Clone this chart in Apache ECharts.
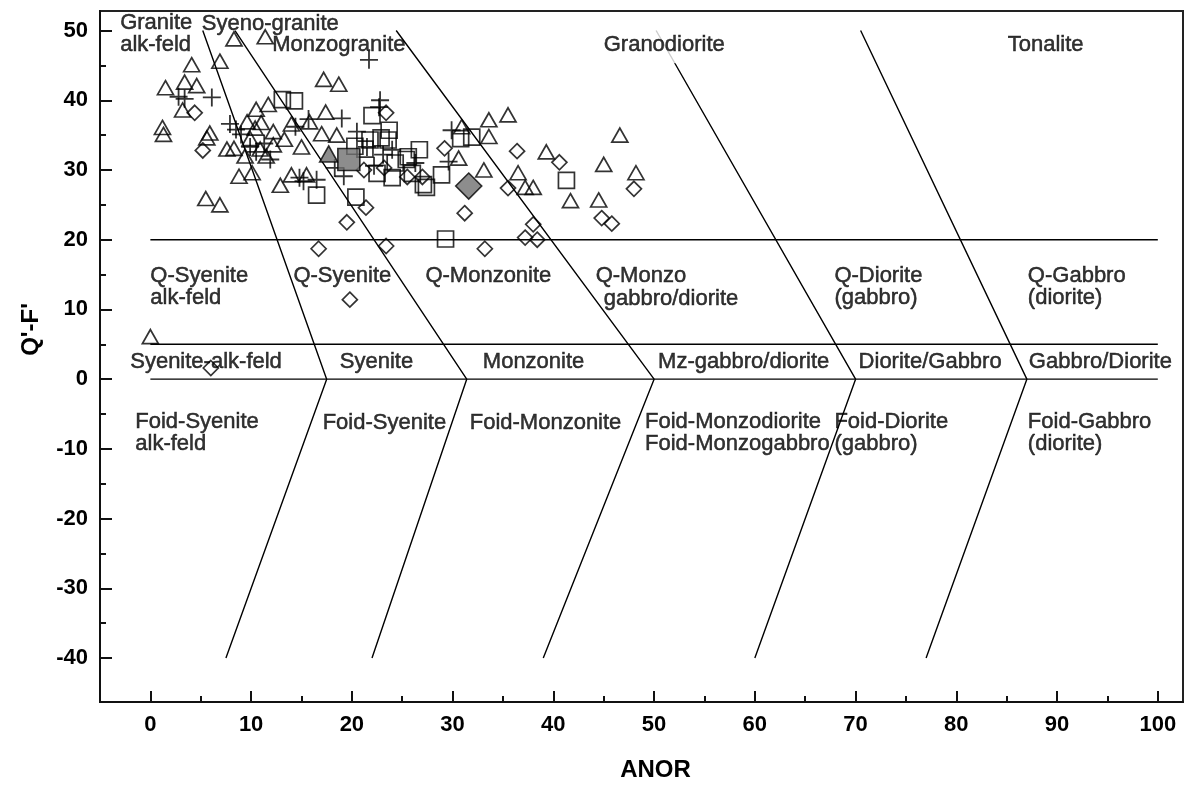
<!DOCTYPE html>
<html><head><meta charset="utf-8">
<script src="https://cdn.jsdelivr.net/npm/echarts@6/dist/echarts.min.js"></script>
<style>html,body{margin:0;padding:0;background:#fff}#c{width:1186px;height:787px}</style>
</head><body><div id="c"></div>
<script>
// ---- axis ticks ----
const xTicks = [0,10,20,30,40,50,60,70,80,90,100];
const xMinor = [5,15,25,35,45,55,65,75,85,95];
const yTicks = [-40,-30,-20,-10,0,10,20,30,40,50];
const yMinor = [-35,-25,-15,-5,5,15,25,35,45];

// ---- field boundaries (ANOR, Q'-F') ----
const boundA = [[5.2,50],[17.5,0],[7.5,-40]];
const boundB = [[8.4,50],[31.4,0],[22,-40]];
const boundC = [[24.4,50],[50,0],[39,-40]];
const boundD = [[50.2,50],[70,0],[60,-40]];
const boundE = [[70.5,50],[87,0],[77,-40]];
const h20 = [[0,20],[100,20]];
const h5 = [[0,5],[100,5]];
const h0 = [[0,0],[100,0]];

// ---- samples ----
const triangles = [
 [8.3,48.8],[11.4,49.1],[4.1,45.1],[6.9,45.6],[1.5,41.8],[3.4,42.6],[4.6,42.1],[3.2,38.6],[1.2,36.1],[1.3,35.1],
 [5.9,35.3],[5.6,34.6],[7.6,33.0],[8.3,33.1],[9.9,34.5],[10.5,38.7],[11.7,39.4],[12.2,35.5],[12.2,33.6],[8.8,29.1],
 [10.1,29.6],[5.5,25.9],[6.9,25.0],[14.0,36.6],[15.0,33.3],[12.9,27.8],[14.0,29.3],[17.2,43.0],[18.7,42.3],[17.4,38.3],
 [15.8,36.9],[17.0,35.2],[18.5,35.0],[30.9,36.2],[30.6,31.7],[35.5,37.9],[33.6,37.2],[33.6,34.8],[39.3,32.6],[46.6,35.0],
 [33.1,30.0],[36.5,29.6],[45.0,30.8],[48.2,29.6],[37.2,27.5],[38.0,27.5],[41.7,25.6],[44.5,25.7],[0.0,6.1],
 [10.4,36.0],[11.0,36.8],[9.4,32.0],[10.9,33.0],[11.5,32.0],[9.6,36.9],[13.3,34.4],[15.5,29.3]
];
const pluses = [
 [2.8,40.5],[6.1,40.4],[7.9,36.6],[8.5,35.8],[9.0,35.1],[9.9,33.3],[11.9,31.5],[14.4,36.2],[15.7,37.3],[21.7,45.8],
 [22.7,39.0],[22.8,40.0],[20.5,35.5],[23.1,32.2],[24.0,32.9],[29.9,35.7],[29.6,31.2],[16.5,28.6],[19.2,29.1],[15.2,28.4],
 [10.5,32.6],[11.3,33.8],[14.8,28.9],[21.5,33.3],[26.3,31.0],[18.3,30.3],[22.2,30.6],[19.0,37.4],[3.4,40.2]
];
const squares = [
 [13.1,40.1],[14.3,39.9],[22.0,37.8],[23.7,35.7],[23.6,34.3],[26.7,32.9],[25.4,31.5],[24.3,31.0],[24.0,28.9],[27.1,27.9],
 [27.4,27.5],[28.9,29.3],[30.8,34.5],[31.9,34.7],[16.5,26.4],[20.4,26.1],[29.3,20.1],[41.3,28.5],[21.8,34.3],[22.9,34.6],
 [21.3,33.0],[25.6,31.9],[22.5,29.5],[20.3,33.4],[26.0,29.5]
];
const diamonds = [
 [4.4,38.2],[5.2,32.8],[23.4,38.2],[29.2,33.1],[36.4,32.7],[40.6,31.1],[35.5,27.4],[48.0,27.3],[31.2,23.8],[21.4,24.6],
 [19.5,22.5],[25.5,29.0],[44.8,23.1],[45.8,22.3],[38.0,22.2],[37.2,20.3],[38.4,20.0],[33.2,18.7],[16.7,18.7],[23.4,19.1],
 [19.8,11.4],[6.0,1.6],[21.2,30.0],[23.2,30.3],[27.0,29.0]
];
const grayTriangle = [[17.7,32.3]];
const graySquare = [[19.7,31.5]];
const grayDiamond = [[31.6,27.7]];

// ---- field names [ANOR, Q'-F', text] (left-aligned, vertically centred) ----
const fieldNames = [
 [-3.0,49.5,'Granite\nalk-feld'],
 [5.1,51.0,'Syeno-granite'],
 [12.1,47.9,'Monzogranite'],
 [44.8,47.9,'Granodiorite'],
 [85.1,47.9,'Tonalite'],
 [0.0,13.2,'Q-Syenite\nalk-feld'],
 [14.2,14.8,'Q-Syenite'],
 [27.3,14.8,'Q-Monzonite'],
 [44.2,14.8,'Q-Monzo'],
 [45.0,11.5,'gabbro/diorite'],
 [67.9,13.2,'Q-Diorite\n(gabbro)'],
 [87.1,13.2,'Q-Gabbro\n(diorite)'],
 [-2.0,2.5,'Syenite-alk-feld'],
 [18.8,2.5,'Syenite'],
 [33.0,2.5,'Monzonite'],
 [50.4,2.5,'Mz-gabbro/diorite'],
 [70.3,2.5,'Diorite/Gabbro'],
 [87.2,2.5,'Gabbro/Diorite'],
 [-1.5,-7.7,'Foid-Syenite\nalk-feld'],
 [17.1,-6.3,'Foid-Syenite'],
 [31.7,-6.3,'Foid-Monzonite'],
 [49.1,-7.7,'Foid-Monzodiorite\nFoid-Monzogabbro'],
 [67.9,-7.7,'Foid-Diorite\n(gabbro)'],
 [87.1,-7.7,'Foid-Gabbro\n(diorite)']
];

const FONT = 'Liberation Sans, Arial, Helvetica, sans-serif';
const chart = echarts.init(document.getElementById('c'), null, {renderer:'canvas'});

function boundary(d){
  return {type:'line', data:d, symbol:'none', silent:true, z:1,
    lineStyle:{color:'#000', width:1.4}, animation:false};
}
function marks(d, symbol, size, fill, bw){
  return {type:'scatter', data:d, symbol:symbol, symbolSize:size, z:3, silent:true,
    itemStyle:{color:fill, borderColor:'#000', borderWidth:bw}, animation:false};
}
const PLUS = 'path://M0,5L10,5M5,0L5,10';
const YMIN = -46.3, YMAX = 52.8, XMIN = -5, XMAX = 102.5;

const option = {
  backgroundColor:'#fff',
  animation:false,
  grid:{left:100, right:3, top:11, bottom:68, show:true, borderColor:'#222', borderWidth:2, containLabel:false},
  xAxis:[{
    type:'value', min:XMIN, max:XMAX,
    name:'ANOR', nameLocation:'middle', nameGap:56,
    nameTextStyle:{fontFamily:FONT, fontWeight:'bold', fontSize:24, color:'#000', padding:[0,0,0,28]},
    axisLine:{show:true, onZero:false, lineStyle:{color:'#111', width:2}},
    axisTick:{show:true, inside:true, length:11, customValues:xTicks, lineStyle:{color:'#111', width:2}},
    axisLabel:{customValues:xTicks, fontFamily:FONT, fontWeight:'bold', fontSize:22, color:'#000', margin:12},
    splitLine:{show:false}
  },{
    type:'value', min:XMIN, max:XMAX, position:'bottom',
    axisLine:{show:false, onZero:false},
    axisTick:{show:true, inside:true, length:6, customValues:xMinor, lineStyle:{color:'#111', width:2}},
    axisLabel:{show:false}, splitLine:{show:false}
  }],
  yAxis:[{
    type:'value', min:YMIN, max:YMAX,
    name:"Q'-F'", nameLocation:'middle', nameGap:57, nameRotate:90,
    nameTextStyle:{fontFamily:FONT, fontWeight:'bold', fontSize:24, color:'#000', padding:[0,0,0,54]},
    axisLine:{show:true, onZero:false, lineStyle:{color:'#111', width:2}},
    axisTick:{show:true, inside:true, length:12, customValues:yTicks, lineStyle:{color:'#111', width:2}},
    axisLabel:{customValues:yTicks, fontFamily:FONT, fontWeight:'bold', fontSize:22, color:'#000', margin:12},
    splitLine:{show:false}
  },{
    type:'value', min:YMIN, max:YMAX, position:'left',
    axisLine:{show:false, onZero:false},
    axisTick:{show:true, inside:true, length:6, customValues:yMinor, lineStyle:{color:'#111', width:2}},
    axisLabel:{show:false}, splitLine:{show:false}
  }],
  series:[
    boundary(boundA), boundary(boundB), boundary(boundC), boundary(boundD), boundary(boundE),
    boundary(h20), boundary(h5), boundary(h0),
    marks(triangles,'triangle',[16,14],'rgba(0,0,0,0)',1.7),
    marks(squares,'rect',[16,16],'rgba(0,0,0,0)',1.7),
    marks(diamonds,'diamond',[15,15],'rgba(0,0,0,0)',1.7),
    marks(pluses,PLUS,[18,18],'rgba(0,0,0,0)',1.8),
    marks(grayTriangle,'triangle',[18,16],'#707070',1.6),
    marks(graySquare,'rect',[22,22],'#707070',1.6),
    marks(grayDiamond,'diamond',[26,26],'#707070',1.6),
    {
      type:'scatter', z:10, silent:true, animation:false,
      symbol:'circle', symbolSize:0,
      data: fieldNames.map(f => {
        const item = {value:[f[0], f[1]], name:f[2]};
        if (f[2] === 'Granodiorite') item.label = {backgroundColor:'#fff', padding:[7,2,7,2]};
        return item;
      }),
      label:{show:true, position:[0,0], align:'left', verticalAlign:'middle',
        formatter: p => p.name, fontFamily:FONT, fontSize:22, lineHeight:22, color:'#000',
        textBorderColor:'#000', textBorderWidth:0.5}
    }
  ]
};
chart.setOption(option);
</script></body></html>
